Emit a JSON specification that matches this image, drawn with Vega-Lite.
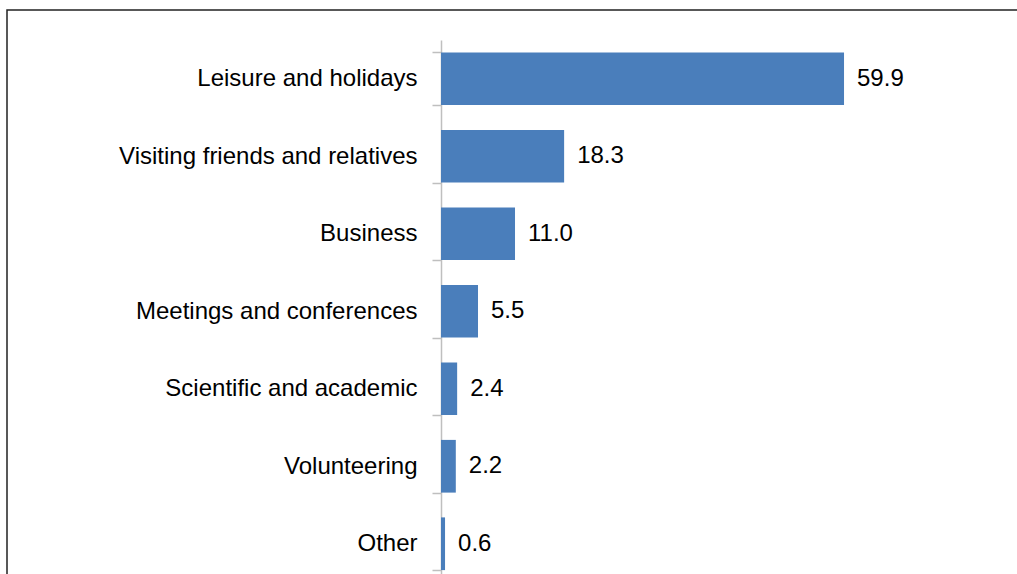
{
  "$schema": "https://vega.github.io/schema/vega-lite/v6.json",
  "width": 1030,
  "height": 584,
  "autosize": {"type": "none"},
  "padding": {"left": 7, "top": 10, "right": -20, "bottom": -20},
  "background": "white",
  "config": {
    "view": {"stroke": "#222222", "strokeWidth": 1.5},
    "font": "Liberation Sans"
  },
  "data": {
    "values": [
      {"purpose": "Leisure and holidays", "value": 59.9},
      {"purpose": "Visiting friends and relatives", "value": 18.3},
      {"purpose": "Business", "value": 11.0},
      {"purpose": "Meetings and conferences", "value": 5.5},
      {"purpose": "Scientific and academic", "value": 2.4},
      {"purpose": "Volunteering", "value": 2.2},
      {"purpose": "Other", "value": 0.6}
    ]
  },
  "encoding": {
    "y": {
      "field": "purpose",
      "type": "nominal",
      "sort": null,
      "scale": {"range": [30, 572.5], "paddingInner": 0.32, "paddingOuter": 0.16},
      "axis": {
        "title": null,
        "offset": -434,
        "tickBand": "extent",
        "tickSize": 9,
        "tickColor": "#bfbfbf",
        "domainColor": "#bfbfbf",
        "domainWidth": 1.5,
        "tickWidth": 1.5,
        "labelFontSize": 24,
        "labelColor": "#000000",
        "labelPadding": 15,
        "labelFont": "Liberation Sans",
        "labelLimit": 500
      }
    },
    "x": {
      "field": "value",
      "type": "quantitative",
      "scale": {"domain": [0, 60], "range": [434, 837.7], "nice": false},
      "axis": null
    }
  },
  "layer": [
    {"mark": {"type": "bar", "color": "#4A7EBB"}},
    {
      "mark": {"type": "text", "align": "left", "baseline": "middle", "dx": 13, "fontSize": 24, "color": "#000000", "font": "Liberation Sans"},
      "encoding": {"text": {"field": "value", "type": "quantitative", "format": ".1f"}}
    }
  ]
}
